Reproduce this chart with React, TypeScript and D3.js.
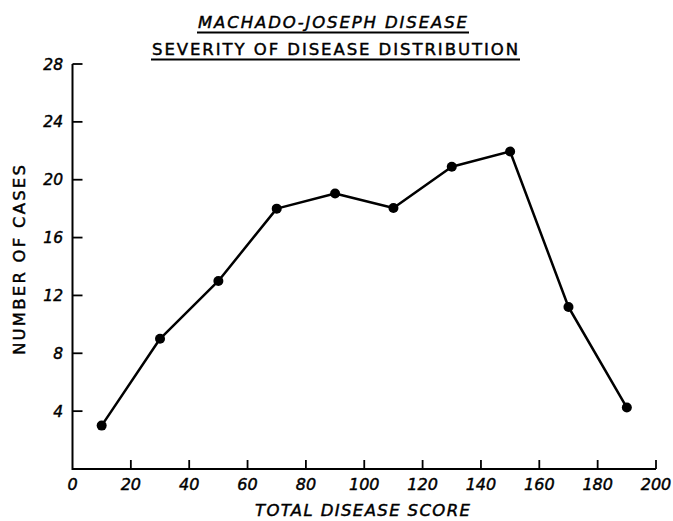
import React from "react";
import * as d3 from "d3";

const scores = [10, 30, 50, 70, 90, 110, 130, 150, 170, 190];
const cases = [3, 9, 13, 18, 19.05, 18.05, 20.9, 21.95, 11.2, 4.25];
const xTicks = [0, 20, 40, 60, 80, 100, 120, 140, 160, 180, 200];
const yTicks = [4, 8, 12, 16, 20, 24, 28];
const title1 = "MACHADO-JOSEPH DISEASE";
const title2 = "SEVERITY OF DISEASE DISTRIBUTION";
const xLabel = "TOTAL DISEASE SCORE";
const yLabel = "NUMBER OF CASES";

export default function App() {
  const W = 673, H = 521;
  const x = d3.scaleLinear().domain([0, 200]).range([72.5, 656]);
  const y = d3.scaleLinear().domain([0, 28]).range([469, 64]);
  const line = d3.line<number>().x((_, i) => x(scores[i])).y((d) => y(d));
  const font = "'DejaVu Sans', sans-serif";
  const ink = { stroke: "#000", strokeWidth: 0.45 };
  return (
    <svg width={W} height={H} style={{ position: "absolute", left: 0, top: 0, background: "#fff" }}>
      <g fill="#000" fontFamily={font} {...ink}>
        <text x={198} y={28} fontSize={16.5} fontStyle="italic" textLength={269} lengthAdjust="spacing">{title1}</text>
        <text x={152} y={55} fontSize={16.5} textLength={366} lengthAdjust="spacing">{title2}</text>
      </g>
      <line x1={197} x2={469} y1={32.5} y2={32.5} stroke="#000" strokeWidth={1.8} />
      <line x1={151} x2={520} y1={59.5} y2={59.5} stroke="#000" strokeWidth={1.8} />
      {/* axes */}
      <path d={`M${x(0)},${y(28)} V${y(0)} H${x(200)}`} fill="none" stroke="#000" strokeWidth={2} />
      {yTicks.map((t) => (
        <g key={"y" + t}>
          <line x1={x(0)} x2={x(0) + 10} y1={y(t)} y2={y(t)} stroke="#000" strokeWidth={1.8} />
          <text x={63} y={y(t)} dy="0.36em" textAnchor="end" fontFamily={font} fontStyle="italic" fontSize={15.5} {...ink}>{t}</text>
        </g>
      ))}
      {xTicks.map((t) => (
        <g key={"x" + t}>
          {t > 0 && <line x1={x(t)} x2={x(t)} y1={y(0)} y2={y(0) - 9} stroke="#000" strokeWidth={1.8} />}
          <text x={x(t)} y={490} textAnchor="middle" fontFamily={font} fontStyle="italic" fontSize={16} {...ink}>{t}</text>
        </g>
      ))}
      <text x={255} y={516} fontFamily={font} fontStyle="italic" fontSize={16.5} textLength={215} lengthAdjust="spacing" {...ink}>{xLabel}</text>
      <text transform={`translate(25,355) rotate(-90)`} fontFamily={font} fontSize={16.5} textLength={190} lengthAdjust="spacing" {...ink}>{yLabel}</text>
      <path d={line(cases) || ""} fill="none" stroke="#000" strokeWidth={2.5} strokeLinejoin="round" />
      {cases.map((c, i) => (
        <circle key={i} cx={x(scores[i])} cy={y(c)} r={5} fill="#000" />
      ))}
    </svg>
  );
}
